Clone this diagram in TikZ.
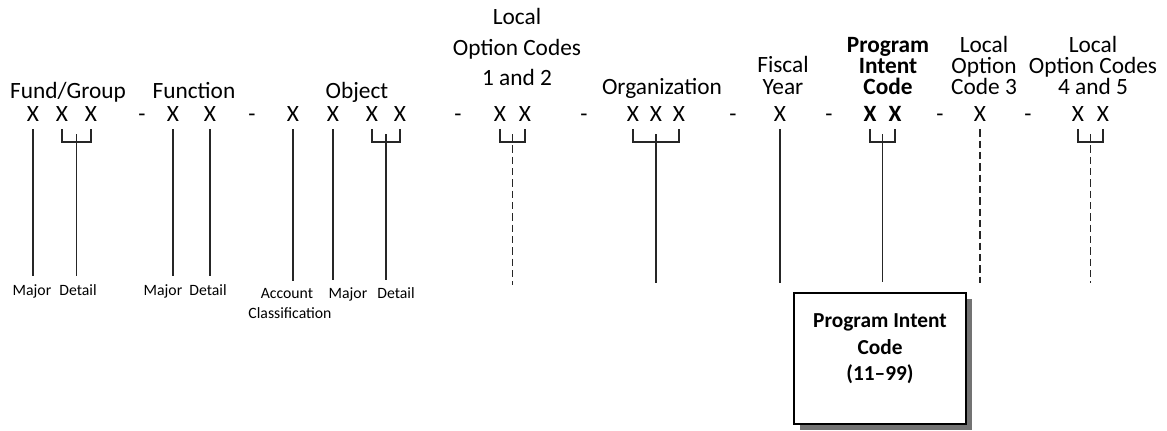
\documentclass[tikz,border=0pt]{standalone}
\usepackage{fontspec}
\setmainfont{Carlito}
\usetikzlibrary{calc,shadows}
\begin{document}
\begin{tikzpicture}[x=0.75pt,y=-0.75pt,
  lbl/.style={anchor=base,inner sep=0pt,font=\fontsize{17.5}{21}\selectfont},
  blbl/.style={anchor=base,inner sep=0pt,font=\fontsize{17.5}{21}\selectfont\bfseries},
  small/.style={anchor=base,inner sep=0pt,font=\fontsize{11.8}{14}\selectfont},
  ln/.style={line width=0.8pt,draw=black!85},
  dln/.style={line width=0.8pt,draw=black!85,dash pattern=on 5.5pt off 3pt},
  gap/.style={shorten <=6pt},
  pbox/.style={draw=black,line width=0.8pt,fill=white,minimum width=129pt,minimum height=98.25pt,
    drop shadow={shadow xshift=4.5pt,shadow yshift=-4.5pt,fill=black!55,opacity=1}},
  boxtxt/.style={align=center,inner sep=0pt,font=\fontsize{16}{20}\selectfont\bfseries}
]
\useasboundingbox (0,0) rectangle (1167,430);

% ---------- group titles ----------
\node[lbl] (tfund) at (68,98) {Fund/Group};
\node[lbl] (tfunc) at (194,98) {Function};
\node[lbl] (tobj) at (357,98) {Object};
\node[lbl] (tlocA1) at (517,24) {Local};
\node[lbl] (tlocA2) at (517,55) {Option Codes};
\node[lbl] (tlocA3) at (517,85) {1 and 2};
\node[lbl] (torg) at (662,94) {Organization};
\node[lbl] (tfis1) at (783,72) {Fiscal};
\node[lbl] (tfis2) at (783,94) {Year};
\node[blbl] (tpic1) at (888,52) {Program};
\node[blbl] (tpic2) at (888,73) {Intent};
\node[blbl] (tpic3) at (888,94) {Code};
\node[lbl] (tlocB1) at (984,52) {Local};
\node[lbl] (tlocB2) at (984,73) {Option};
\node[lbl] (tlocB3) at (984,94) {Code 3};
\node[lbl] (tlocC1) at (1093,52) {Local};
\node[lbl] (tlocC2) at (1093,73) {Option Codes};
\node[lbl] (tlocC3) at (1093,94) {4 and 5};

% ---------- digit row ----------
\node[lbl] (f1) at (33,121) {X};
\node[lbl] (f2) at (62,121) {X};
\node[lbl] (f3) at (91,121) {X};
\node[lbl] (d1) at (142,121) {-};
\node[lbl] (g1) at (173,121) {X};
\node[lbl] (g2) at (210,121) {X};
\node[lbl] (d2) at (252,121) {-};
\node[lbl] (o1) at (293,121) {X};
\node[lbl] (o2) at (333,121) {X};
\node[lbl] (o3) at (372,121) {X};
\node[lbl] (o4) at (400,121) {X};
\node[lbl] (d3) at (458,121) {-};
\node[lbl] (a1) at (500,121) {X};
\node[lbl] (a2) at (525,121) {X};
\node[lbl] (d4) at (584,121) {-};
\node[lbl] (r1) at (633,121) {X};
\node[lbl] (r2) at (656,121) {X};
\node[lbl] (r3) at (679,121) {X};
\node[lbl] (d5) at (733,121) {-};
\node[lbl] (y1) at (780,121) {X};
\node[lbl] (d6) at (829,121) {-};
\node[blbl] (p1) at (870,121) {X};
\node[blbl] (p2) at (895,121) {X};
\node[lbl] (d7) at (940,121) {-};
\node[lbl] (b1) at (980,121) {X};
\node[lbl] (d8) at (1028,121) {-};
\node[lbl] (c1) at (1078,121) {X};
\node[lbl] (c2) at (1103,121) {X};

% ---------- bottom labels ----------
\node[small] (lfmaj) at (32,295) {Major};
\node[small] (lfdet) at (78,295) {Detail};
\node[small] (lgmaj) at (163,295) {Major};
\node[small] (lgdet) at (208,295) {Detail};
\node[small] (loacc1) at (287,298) {Account};
\node[small] (loacc2) at (290,318) {Classification};
\node[small] (lomaj) at (348,298) {Major};
\node[small] (lodet) at (396,298) {Detail};

\coordinate (bot) at (0,283);
\coordinate (brk) at (0,134);

% ---------- brackets (stem tops) ----------
\foreach \a/\b/\n in {f2/f3/sf, o3/o4/so, a1/a2/sa, r1/r3/sr, p1/p2/sp, c1/c2/sc}{
  \draw[ln] ([yshift=-6pt]\a.south) -- ([yshift=-6pt]\a.south |- brk) -- ([yshift=-6pt]\b.south |- brk) -- ([yshift=-6pt]\b.south);
  \coordinate (\n) at ($(\a.south |- brk)!.5!(\b.south |- brk)$);
}

% ---------- vertical connectors ----------
\draw[ln,gap,shorten >=6pt] (f1.south) -- (f1.south |- lfmaj.north);
\draw[ln,shorten >=6pt] (sf) -- (sf |- lfdet.north);
\draw[ln,gap,shorten >=6pt] (g1.south) -- (g1.south |- lgmaj.north);
\draw[ln,gap,shorten >=6pt] (g2.south) -- (g2.south |- lgdet.north);
\draw[ln,gap,shorten >=5pt] (o1.south) -- (o1.south |- loacc1.north);
\draw[ln,gap,shorten >=5pt] (o2.south) -- (o2.south |- lomaj.north);
\draw[ln,shorten >=5pt] (so) -- (so |- lodet.north);
\draw[dln] (sa) -- (sa |- 0,285);
\draw[ln] (sr) -- (sr |- bot);
\draw[ln,gap] (y1.south) -- (y1.south |- bot);
\draw[dln,gap] (b1.south) -- (b1.south |- bot);
\draw[dln] (sc) -- (sc |- bot);

% ---------- program intent code box ----------
\node[pbox] (picbox) at (880,358.5) {};
\node[boxtxt] (pictxt) at (880,349) {Program Intent\\Code\\(11–99)};
\draw[ln,shorten >=7.5pt] (sp) -- (sp |- picbox.north);
\end{tikzpicture}
\end{document}
